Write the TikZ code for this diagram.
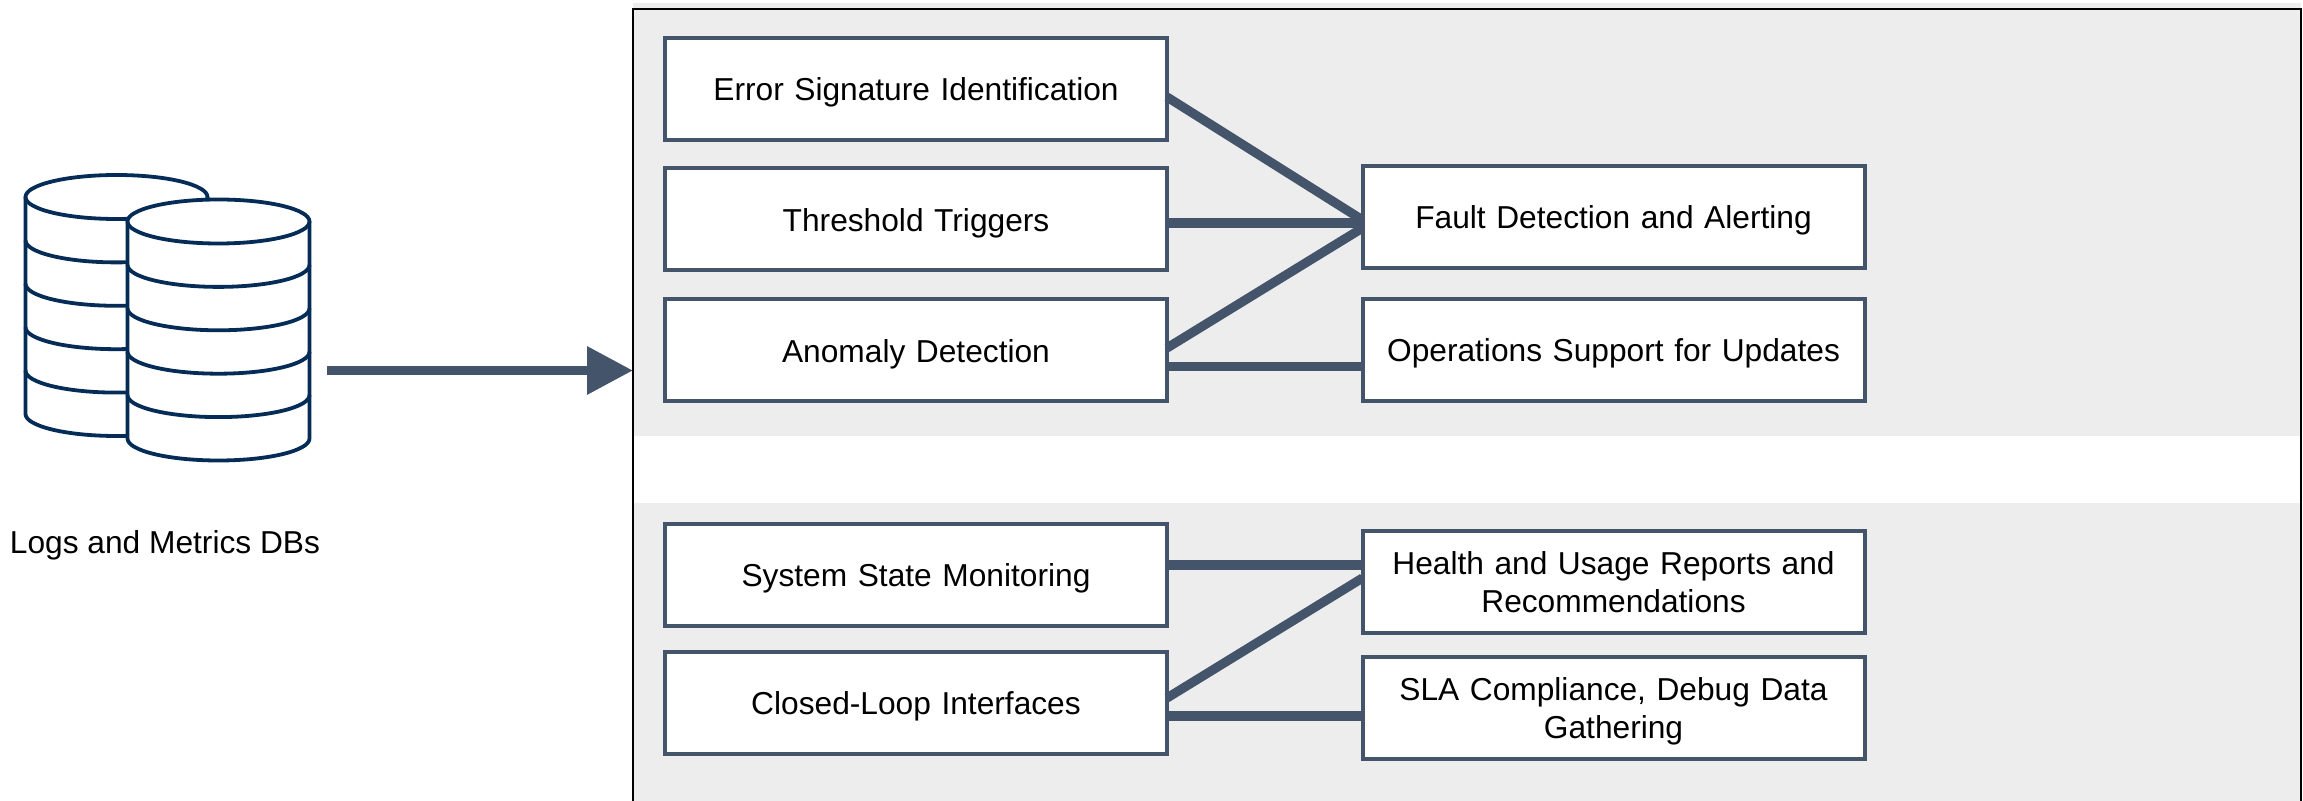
\documentclass[tikz,border=0pt]{standalone}
\usepackage{fontspec}
\setmainfont{Liberation Sans}
\usetikzlibrary{arrows.meta,calc}
\definecolor{slate}{HTML}{44546A}
\definecolor{band}{HTML}{EDEDED}
\definecolor{dbblue}{HTML}{052C56}
\newcommand{\lifted}[1]{\raisebox{-1.8pt}[\height][\depth]{#1}}
\tikzset{
  x=0.5pt,y=-0.5pt,
  taskbox/.style={draw=slate,fill=white,line width=2pt,outer sep=0pt,inner sep=0pt,
    minimum width=251pt,minimum height=51pt,align=center,text width=240pt,
    font=\fontsize{15.85}{19}\selectfont},
  link/.style={draw=slate,line width=4.6pt},
  flow/.style={draw=slate,line width=4.8pt,-{Triangle[length=23pt,width=23pt]}},
  dbline/.style={draw=dbblue,line width=1.9pt,line join=round},
  frameline/.style={draw=black,line width=1pt},
}
\newcommand{\dbcyl}[6]{% cx, top-centre y, rx, ry, step, bands
  \fill[white] (#1-#3,#2) -- (#1-#3,#2+#5*#6) arc[start angle=180,end angle=360,x radius=#3,y radius=-#4] -- (#1+#3,#2) arc[start angle=0,end angle=180,x radius=#3,y radius=#4*-1] -- cycle;
  \draw[dbline] (#1,#2) ellipse[x radius=#3,y radius=#4];
  \draw[dbline] (#1-#3,#2) -- (#1-#3,#2+#5*#6) arc[start angle=180,end angle=360,x radius=#3,y radius=-#4] -- (#1+#3,#2);
  \foreach \k in {1,...,\numexpr#6-1\relax}
    \draw[dbline] (#1-#3,#2+#5*\k) arc[start angle=180,end angle=360,x radius=#3,y radius=-#4];
}
\begin{document}
\begin{tikzpicture}
\useasboundingbox (0,0) rectangle (2303,801);
\fill[white] (0,0) rectangle (2303,801);
% bands
\fill[band] (633,3) rectangle (2301,436);
\fill[band] (633,503) rectangle (2301,801);
% frame
\coordinate (frameBL) at (633,801);
\coordinate (frameTL) at (633,9);
\coordinate (frameTR) at (2301,9);
\coordinate (frameBR) at (2301,801);
\draw[frameline] (frameBL) -- (frameTL) -- (frameTR) -- (frameBR);
% database
\dbcyl{116.5}{197}{91}{22}{43.4}{5}
\dbcyl{218.5}{221.5}{91}{22}{43.4}{5}
% boxes
\node[taskbox] (err) at (916,89) {\lifted{Error Signature Identification}};
\node[taskbox] (thr) at (916,219.5) {\lifted{Threshold Triggers}};
\node[taskbox] (ano) at (916,350.5) {\lifted{Anomaly Detection}};
\node[taskbox] (sys) at (916,575) {\lifted{System State Monitoring}};
\node[taskbox] (clo) at (916,703) {\lifted{Closed-Loop Interfaces}};
\node[taskbox] (fau) at (1613.5,217) {\lifted{Fault Detection and Alerting}};
\node[taskbox] (ops) at (1613.5,350) {\lifted{Operations Support for Updates}};
\node[taskbox] (hea) at (1613.5,582.5) {Health and Usage Reports and\\Recommendations};
\node[taskbox] (sla) at (1613.5,708) {\lifted{SLA Compliance, Debug Data}\\\lifted{Gathering}};
% connectors
\draw[link] ($(err.east)+(0,8)$) -- ($(fau.west)+(0,3)$);
\draw[link] ($(thr.east)+(0,3.5)$) -- ($(fau.west)+(0,6)$);
\draw[link] ($(ano.east)+(0,-2.5)$) -- ($(fau.west)+(0,11)$);
\draw[link] ($(ano.east)+(0,16)$) -- ($(ops.west)+(0,16.5)$);
\draw[link] ($(sys.east)+(0,-10)$) -- ($(hea.west)+(0,-17.5)$);
\draw[link] ($(clo.east)+(0,-5)$) -- ($(hea.west)+(0,-4.5)$);
\draw[link] ($(clo.east)+(0,13)$) -- ($(sla.west)+(0,8)$);
% main arrow
\coordinate (flowstart) at (327,370.5);
\coordinate (flowend) at (633,370.5);
\draw[flow] (flowstart) -- (flowend);
% label
\node[anchor=base,font=\fontsize{15.85}{19}\selectfont,inner sep=0pt] (lbl) at (165,554) {Logs and Metrics DBs};
\end{tikzpicture}
\end{document}
